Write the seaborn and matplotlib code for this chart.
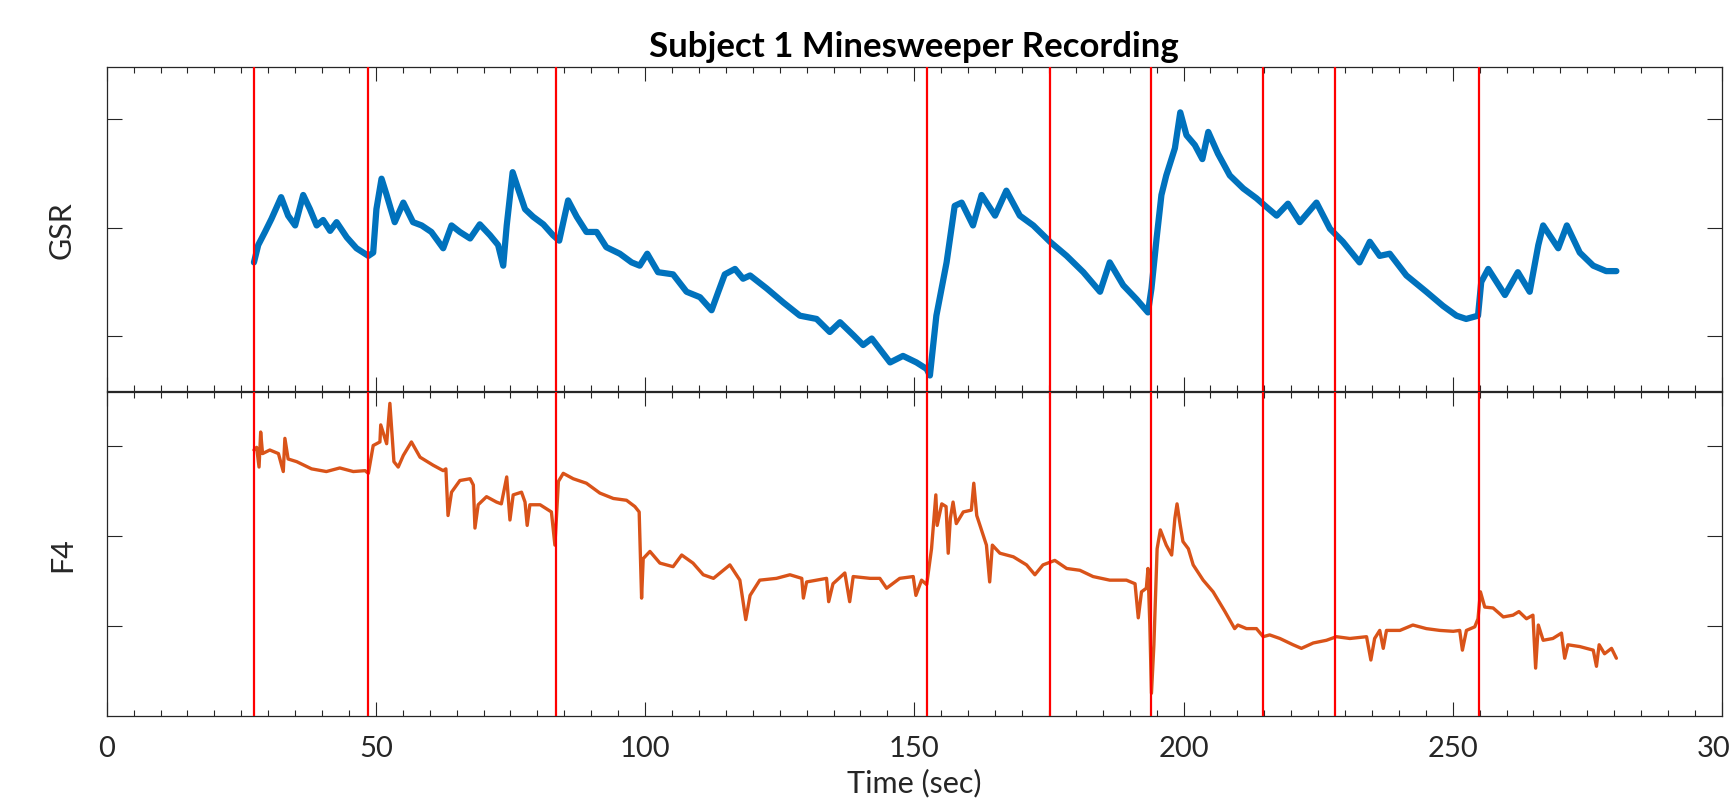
import numpy as np
import pandas as pd
import seaborn as sns
from matplotlib import pyplot as plt
from matplotlib.ticker import MultipleLocator

# event markers (sec)
event_times = [27.35, 48.6, 83.4, 152.3, 175.2, 193.9, 214.8, 228.1, 254.9]

# GSR trace (arbitrary units)
gsr_time = [
    27.35, 28.15, 29.4, 30.6, 32.4, 33.7, 35.0, 36.5, 37.75, 39.0, 40.2, 41.5,
    42.7, 44.6, 46.4, 48.6, 49.5, 50.1, 51.05, 52.0, 53.5, 55.1, 56.9, 58.5,
    60.3, 62.5, 64.05, 65.6, 67.5, 69.3, 71.2, 72.7, 73.65, 74.3, 75.4, 76.4,
    77.7, 79.2, 81.1, 82.9, 84.05, 84.8, 85.7, 87.3, 89.1, 91.0, 92.8, 95.3,
    97.5, 99.0, 100.4, 102.4, 105.2, 107.7, 110.2, 112.35, 113.6, 114.8, 116.7,
    118.2, 119.5, 122.6, 125.7, 128.75, 131.85, 134.3, 136.2, 138.7, 140.5,
    142.1, 145.5, 147.9, 150.4, 152.3, 152.9, 154.1, 156.0, 157.5, 158.8,
    160.9, 162.5, 165.0, 167.1, 169.6, 172.1, 175.2, 178.3, 181.4, 184.5,
    186.3, 188.8, 191.3, 193.4, 194.05, 195.0, 195.9, 196.8, 198.4, 199.4,
    200.55, 202.1, 203.5, 204.6, 206.4, 208.6, 211.1, 213.55, 215.4, 217.3,
    219.4, 221.6, 224.7, 227.2, 229.6, 232.7, 234.6, 236.45, 238.3, 241.4,
    245.1, 248.2, 250.7, 252.5, 254.7, 255.3, 256.6, 259.7, 262.1, 264.3,
    265.9, 266.8, 269.6, 271.2, 273.6, 276.1, 278.5, 280.4,
]
gsr_value = [
    0.68, 0.84, 0.96, 1.08, 1.28, 1.11, 1.02, 1.30, 1.17, 1.02, 1.07, 0.97,
    1.05, 0.91, 0.81, 0.74, 0.77, 1.17, 1.45, 1.30, 1.05, 1.23, 1.05, 1.02,
    0.96, 0.81, 1.02, 0.96, 0.90, 1.03, 0.93, 0.84, 0.65, 1.02, 1.51, 1.36,
    1.17, 1.10, 1.03, 0.93, 0.88, 1.05, 1.25, 1.10, 0.96, 0.96, 0.82, 0.76,
    0.68, 0.65, 0.76, 0.59, 0.57, 0.41, 0.36, 0.24, 0.41, 0.57, 0.62,
    0.53, 0.56, 0.44, 0.31, 0.19, 0.16, 0.04, 0.13, 0.01, -0.08,
    -0.02, -0.24, -0.18, -0.24, -0.30, -0.36, 0.19, 0.68, 1.20, 1.23,
    1.02, 1.30, 1.11, 1.34, 1.11, 1.02, 0.87, 0.74, 0.59, 0.41,
    0.68, 0.47, 0.34, 0.22, 0.44, 0.90, 1.30, 1.48, 1.73, 2.06,
    1.85, 1.76, 1.63, 1.88, 1.68, 1.48, 1.36, 1.27, 1.19, 1.11,
    1.22, 1.05, 1.23, 0.99, 0.87, 0.68, 0.87, 0.74, 0.76, 0.56,
    0.41, 0.28, 0.19, 0.16, 0.19, 0.50, 0.62, 0.38, 0.59, 0.41,
    0.84, 1.02, 0.81, 1.02, 0.77, 0.65, 0.60, 0.60,
]

# F4 trace (arbitrary units)
f4_time = [
    27.35, 27.85, 28.3, 28.6, 28.95, 30.3, 31.9, 32.8, 33.1, 33.7, 35.3, 38.05,
    40.8, 43.3, 45.8, 48.0, 48.6, 49.5, 50.75, 50.9, 52.0, 52.6, 53.35, 54.15,
    55.1, 56.6, 58.2, 60.65, 62.5, 63.0, 63.4, 64.05, 65.6, 67.5, 68.1, 68.4,
    69.0, 70.55, 72.4, 73.3, 74.3, 74.9, 75.5, 77.05, 77.7, 78.1, 78.6, 80.5,
    82.6, 83.25, 83.9, 84.8, 86.65, 89.1, 91.6, 94.1, 96.55, 98.1, 98.9,
    99.35, 99.65, 100.9, 102.75, 105.2, 106.8, 108.9, 110.8, 112.7, 115.75,
    117.6, 118.7, 119.5, 121.3, 124.4, 126.9, 129.1, 129.4, 130.0, 133.7,
    134.1, 134.9, 137.1, 138.0, 138.65, 141.8, 143.6, 144.85, 147.3, 149.8,
    150.3, 151.35, 152.3, 153.2, 154.0, 154.25, 155.1, 155.9, 156.3, 156.7,
    157.2, 157.8, 159.1, 160.6, 161.05, 161.6, 162.8, 163.4, 164.0, 164.5,
    165.9, 168.4, 170.85, 172.4, 173.9, 176.1, 178.3, 180.75, 183.2, 186.3,
    189.4, 191.0, 191.6, 192.2, 193.1, 193.4, 193.75, 194.05, 194.5, 195.1,
    195.7, 196.8, 197.8, 198.4, 198.8, 199.4, 199.9, 200.9, 201.8, 203.65,
    205.5, 207.7, 209.5, 210.1, 211.7, 213.55, 214.8, 216.0, 217.9, 220.35,
    221.9, 224.1, 226.55, 228.4, 230.9, 234.0, 234.8, 235.5, 236.45, 237.1,
    237.7, 240.2, 242.6, 245.1, 247.6, 250.1, 251.3, 251.8, 252.55, 254.1,
    254.7, 255.15, 255.95, 257.5, 259.4, 261.2, 262.3, 263.7, 264.9, 265.4,
    265.9, 266.8, 268.6, 270.2, 270.8, 271.4, 273.6, 276.1, 276.7, 277.2,
    278.2, 279.5, 280.4,
]
f4_value = [
    1.96, 1.99, 1.77, 2.16, 1.92, 1.96, 1.92, 1.72, 2.09, 1.86, 1.83, 1.75,
    1.72, 1.76, 1.72, 1.73, 1.70, 2.01, 2.05, 2.24, 2.03, 2.48, 1.83, 1.77,
    1.90, 2.05, 1.88, 1.79, 1.73, 1.75, 1.23, 1.49, 1.62, 1.64, 1.57, 1.09,
    1.35, 1.44, 1.38, 1.36, 1.66, 1.18, 1.46, 1.49, 1.38, 1.12, 1.35, 1.35,
    1.27, 0.90, 1.61, 1.70, 1.64, 1.59, 1.48, 1.42, 1.40, 1.33, 1.27,
    0.31, 0.75, 0.83, 0.70, 0.66, 0.79, 0.70, 0.57, 0.53, 0.68,
    0.51, 0.07, 0.34, 0.51, 0.53, 0.57, 0.53, 0.31, 0.49, 0.53,
    0.27, 0.47, 0.59, 0.27, 0.55, 0.53, 0.53, 0.42, 0.53, 0.55,
    0.34, 0.51, 0.46, 0.86, 1.46, 1.12, 1.36, 1.33, 0.81, 1.20,
    1.38, 1.14, 1.27, 1.29, 1.59, 1.23, 1.01, 0.90, 0.49, 0.90,
    0.81, 0.77, 0.68, 0.57, 0.68, 0.73, 0.64, 0.62, 0.55, 0.51,
    0.51, 0.47, 0.09, 0.38, 0.42, 0.64, 0.01, -0.75, -0.21, 0.86,
    1.07, 0.90, 0.79, 1.20, 1.36, 1.12, 0.94, 0.86, 0.68, 0.51,
    0.38, 0.16, -0.03, 0.01, -0.03, -0.03, -0.12, -0.10, -0.14, -0.21,
    -0.25, -0.19, -0.16, -0.12, -0.14, -0.12, -0.38, -0.14, -0.05, -0.25,
    -0.05, -0.05, 0.01, -0.03, -0.05, -0.06, -0.05, -0.27, -0.05, -0.01,
    0.08, 0.38, 0.21, 0.20, 0.10, 0.12, 0.16, 0.08, 0.12, -0.47,
    0.01, -0.16, -0.14, -0.08, -0.36, -0.21, -0.23, -0.27, -0.45, -0.21,
    -0.31, -0.25, -0.36,
]

gsr = pd.DataFrame({"time": gsr_time, "GSR": gsr_value})
f4 = pd.DataFrame({"time": f4_time, "F4": f4_value})

sns.set_style("ticks")
plt.rcParams["font.family"] = ["Lato", "DejaVu Sans"]

edge = "#262626"
fig = plt.figure(figsize=(17.29, 8.03), dpi=100)
ax_top = fig.add_axes([0.0617, 0.5122, 0.9342, 0.4035])
ax_bot = fig.add_axes([0.0617, 0.1075, 0.9342, 0.4035])

sns.lineplot(data=gsr, x="time", y="GSR", ax=ax_top, color="#0072BD", linewidth=4.5)
sns.lineplot(data=f4, x="time", y="F4", ax=ax_bot, color="#D95319", linewidth=2.4)

for ax in (ax_top, ax_bot):
    for t in event_times:
        ax.axvline(t, color="#FF0000", linewidth=1.6, zorder=3)
    ax.set_xlim(0, 300)
    ax.set_xticks(range(0, 301, 50))
    ax.xaxis.set_minor_locator(MultipleLocator(5))
    ax.set_yticks([0, 1, 2])
    ax.tick_params(which="both", direction="in", top=True, right=True,
                   color=edge, labelcolor=edge, width=0.8, labelleft=False)
    ax.tick_params(which="major", length=10, labelsize=21, pad=14)
    ax.tick_params(axis="y", which="major", length=11)
    ax.tick_params(which="minor", length=4.5)
    for s in ax.spines.values():
        s.set_color(edge)
        s.set_linewidth(0.9)

ax_top.set_ylim(-0.5, 2.48)
ax_bot.set_ylim(-1.0, 2.61)
ax_top.tick_params(labelbottom=False)

ax_top.set_xlabel("")
ax_top.set_ylabel("GSR", fontsize=22, color=edge, labelpad=22)
ax_bot.set_ylabel("F4", fontsize=22, color=edge, labelpad=22)
ax_bot.set_xlabel("Time (sec)", fontsize=22, color=edge, labelpad=5)
ax_top.set_title("Subject 1 Minesweeper Recording", fontsize=25,
                 fontweight="bold", color="black", pad=8)

fig.savefig("out.png", dpi=100, facecolor="white")
